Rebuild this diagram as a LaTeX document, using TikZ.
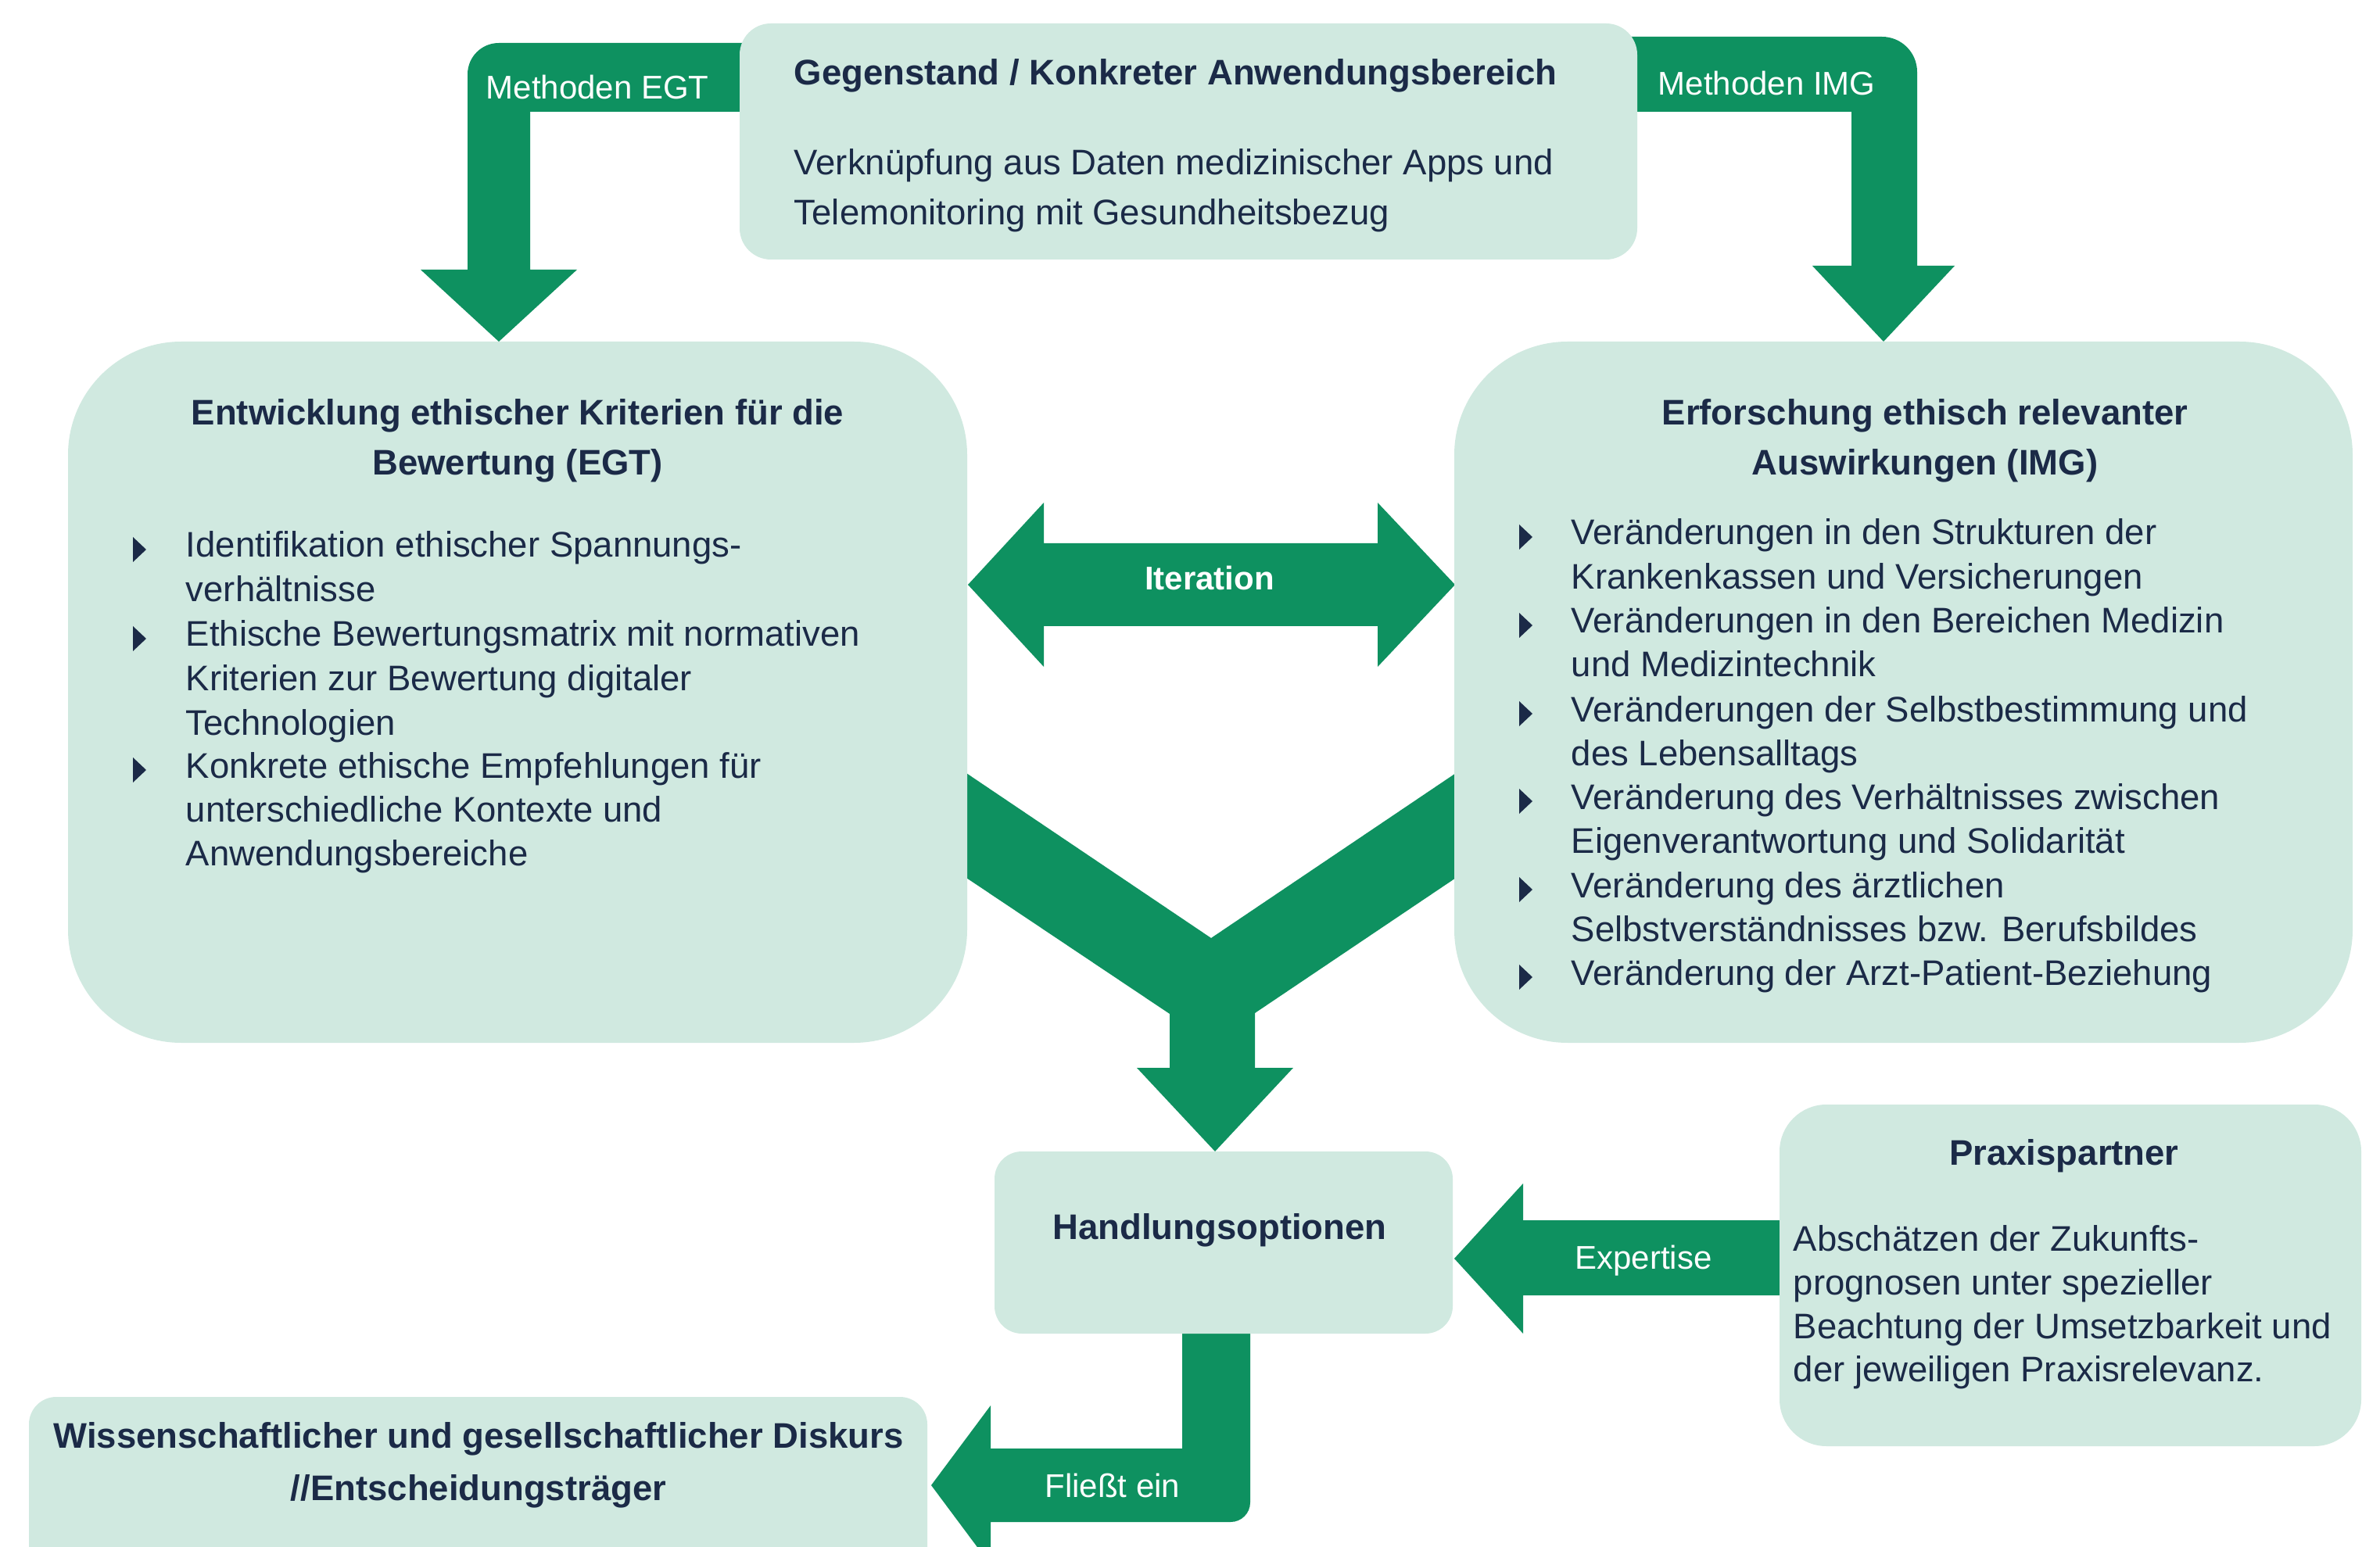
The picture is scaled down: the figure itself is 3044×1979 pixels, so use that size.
\documentclass[tikz,border=0pt]{standalone}
\usepackage{fontspec}
\setmainfont{Liberation Sans}
\definecolor{grn}{HTML}{0E9160}
\definecolor{boxfill}{HTML}{D0E9E0}
\definecolor{ink}{HTML}{1B2A47}
\begin{document}
\begin{tikzpicture}[x=0.25pt,y=-0.25pt,
  arrowshape/.style={fill=grn, draw=none},
  boxshape/.style={fill=boxfill, draw=none, rectangle, inner sep=0pt},
  body/.style={text=ink, font=\fontsize{11.375}{14.25}\selectfont, inner sep=0pt, anchor=base west},
  ttl/.style={text=ink, font=\bfseries\fontsize{11.375}{14.25}\selectfont, inner sep=0pt, anchor=base},
  lbl/.style={text=white, font=\fontsize{10.5}{12}\selectfont, inner sep=0pt, anchor=base},
  blbl/.style={text=white, font=\bfseries\fontsize{10.5}{12}\selectfont, inner sep=0pt, anchor=base},
  bul/.style={fill=ink, draw=none}]
\useasboundingbox (0,0) rectangle (3044,1979);
\clip (0,0) rectangle (3044,1979);
\fill[white] (0,0) rectangle (3044,1979);

% ---- block arrows ----
% Methoden EGT
\fill[arrowshape] (1000,143) -- (678,143) -- (678,345) -- (738,345) -- (638,437) -- (538,345) -- (598,345) -- (598,95) arc[start angle=180, end angle=270, radius=40] -- (1000,55) -- cycle;
% Methoden IMG
\fill[arrowshape] (2040,143) -- (2368,143) -- (2368,340) -- (2318,340) -- (2409,437) -- (2500,340) -- (2452,340) -- (2452,92) arc[start angle=0, end angle=-90, radius=45] -- (2040,47) -- cycle;
% Iteration
\fill[arrowshape] (1238,748) -- (1335,643) -- (1335,695) -- (1762,695) -- (1762,643) -- (1861,748) -- (1762,853) -- (1762,801) -- (1335,801) -- (1335,853) -- cycle;
% Y arrow
\fill[arrowshape] (1230,985) -- (1549,1200) -- (1868,985) -- (1868,1119) -- (1605,1296) -- (1605,1366) -- (1654,1366) -- (1554,1473) -- (1454,1366) -- (1496,1366) -- (1496,1297) -- (1230,1119) -- cycle;
% Expertise
\fill[arrowshape] (1860,1610) -- (1948,1514) -- (1948,1561) -- (2320,1561) -- (2320,1657) -- (1948,1657) -- (1948,1706) -- cycle;
% Fliesst ein
\fill[arrowshape] (1512,1680) -- (1599,1680) -- (1599,1922) arc[start angle=0, end angle=90, radius=25] -- (1267,1947) -- (1267,2002) -- (1191,1900) -- (1267,1798) -- (1267,1853) -- (1512,1853) -- cycle;

% ---- boxes ----
\node[boxshape, rounded corners=10pt, minimum width=287pt, minimum height=75.5pt] (gegen) at (1520,181) {};
\node[boxshape, rounded corners=36.25pt, minimum width=287.5pt, minimum height=224.25pt] (egt) at (662,885.5) {};
\node[boxshape, rounded corners=36.25pt, minimum width=287.25pt, minimum height=224.25pt] (img) at (2434.5,885.5) {};
\node[boxshape, rounded corners=8.75pt, minimum width=146.5pt, minimum height=58.25pt] (handl) at (1565,1589.5) {};
\node[boxshape, rounded corners=15pt, minimum width=186pt, minimum height=109.25pt] (praxis) at (2648,1631.5) {};
\node[boxshape, rounded corners=8.75pt, minimum width=287.25pt, minimum height=60.75pt] (wiss) at (611.5,1908.5) {};

% ---- texts ----
\node[ttl, anchor=base west] (g1) at (1015,109) {Gegenstand / Konkreter Anwendungsbereich};
\node[body] (g2) at (1015,224) {Verknüpfung aus Daten medizinischer Apps und};
\node[body] (g3) at (1015,288) {Telemonitoring mit Gesundheitsbezug};

\node[lbl, anchor=base west] (megt) at (621,127) {Methoden EGT};
\node[lbl, anchor=base west] (mimg) at (2120,122) {Methoden IMG};
\node[blbl] (iter) at (1547,755) {Iteration};
\node[lbl] (expt) at (2102,1623) {Expertise};
\node[lbl] (flie) at (1423,1915) {Fließt ein};

\node[ttl] (e1) at (662,544) {Entwicklung ethischer Kriterien für die};
\node[ttl] (e2) at (662,608) {Bewertung (EGT)};
\node[body] (el1) at (237,713) {Identifikation ethischer Spannungs-};
\node[body] (el2) at (237,770) {verhältnisse};
\node[body] (el3) at (237,827) {Ethische Bewertungsmatrix mit normativen};
\node[body] (el4) at (237,884) {Kriterien zur Bewertung digitaler};
\node[body] (el5) at (237,940) {Technologien};
\node[body] (el6) at (237,995) {Konkrete ethische Empfehlungen für};
\node[body] (el7) at (237,1051) {unterschiedliche Kontexte und};
\node[body] (el8) at (237,1107) {Anwendungsbereiche};
\foreach \b in {713,827,995}{
  \fill[bul] (170,\b-26) -- (187,\b-10) -- (170,\b+6) -- cycle;
}

\node[ttl] (i1) at (2462,544) {Erforschung ethisch relevanter};
\node[ttl] (i2) at (2462,608) {Auswirkungen (IMG)};
\node[body] (il1) at (2009,697) {Veränderungen in den Strukturen der};
\node[body] (il2) at (2009,754) {Krankenkassen und Versicherungen};
\node[body] (il3) at (2009,810) {Veränderungen in den Bereichen Medizin};
\node[body] (il4) at (2009,866) {und Medizintechnik};
\node[body] (il5) at (2009,923) {Veränderungen der Selbstbestimmung und};
\node[body] (il6) at (2009,979) {des Lebensalltags};
\node[body] (il7) at (2009,1035) {Veränderung des Verhältnisses zwischen};
\node[body] (il8) at (2009,1091) {Eigenverantwortung und Solidarität};
\node[body] (il9) at (2009,1148) {Veränderung des ärztlichen};
\node[body] (il10) at (2009,1204) {Selbstverständnisses bzw. Berufsbildes};
\node[body] (il11) at (2009,1260) {Veränderung der Arzt-Patient-Beziehung};
\foreach \b in {697,810,923,1035,1148,1260}{
  \fill[bul] (1943,\b-26) -- (1960,\b-10) -- (1943,\b+6) -- cycle;
}

\node[ttl] (h1) at (1560,1585) {Handlungsoptionen};

\node[ttl] (p0) at (2640,1490) {Praxispartner};
\node[body] (p1) at (2293,1600) {Abschätzen der Zukunfts-};
\node[body] (p2) at (2293,1656) {prognosen unter spezieller};
\node[body] (p3) at (2293,1712) {Beachtung der Umsetzbarkeit und};
\node[body] (p4) at (2293,1767) {der jeweiligen Praxisrelevanz.};

\node[ttl] (w1) at (612,1852) {Wissenschaftlicher und gesellschaftlicher Diskurs};
\node[ttl] (w2) at (612,1919) {//Entscheidungsträger};
\end{tikzpicture}
\end{document}
